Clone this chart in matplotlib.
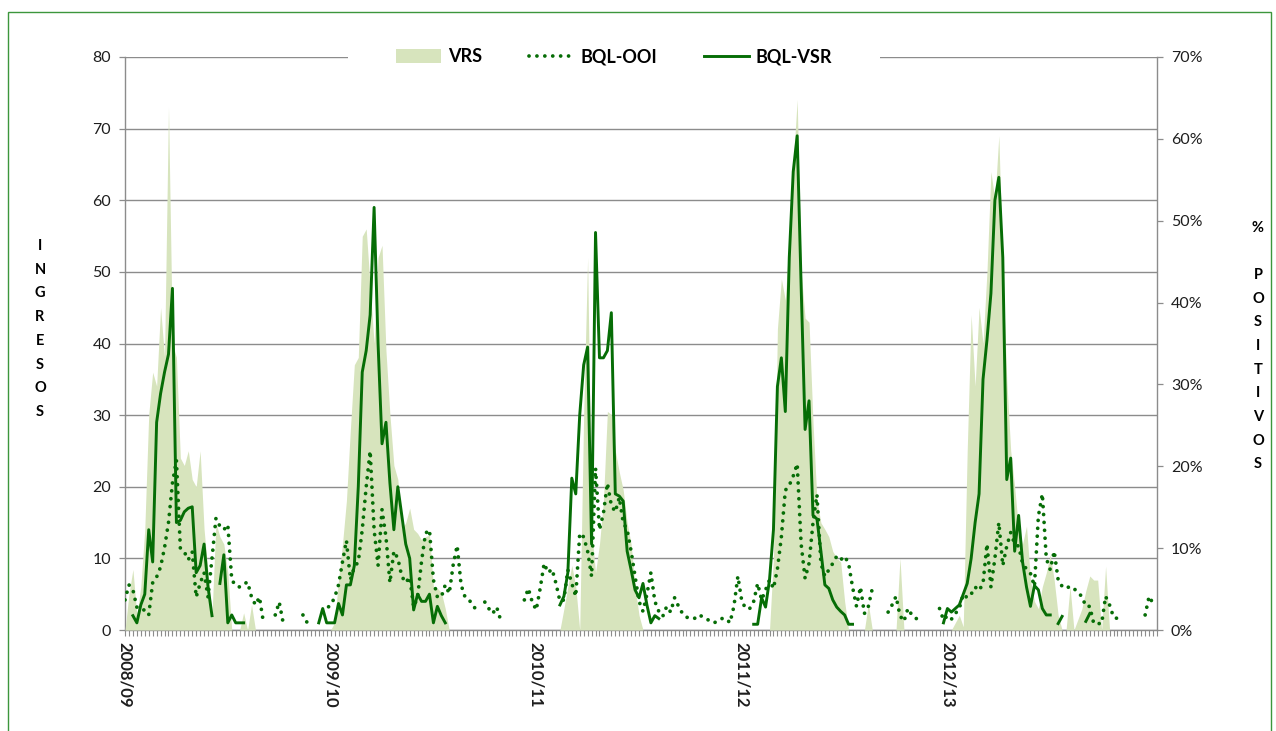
import numpy as np
import matplotlib
matplotlib.use("Agg")
import matplotlib.pyplot as plt
from matplotlib.patches import Patch, Rectangle
from matplotlib.lines import Line2D
from matplotlib.ticker import FuncFormatter

plt.rcParams['font.family'] = ['Lato', 'DejaVu Sans']

N = None
season_labels = ['2008/09', '2009/10', '2010/11', '2011/12', '2012/13']
season_start_week = [0, 52, 104, 156, 208]

# VRS: % positivos (right axis), weekly
vrs_0809 = [0, 4.4, 7.4, 1.8, 5.3, 12.3, 26.3, 31.5, 29.8, 39.4,
            33.3, 63.9, 35, 33.3, 21, 20.1, 21.9, 18.4, 17.5, 21.9,
            12.3, 7, 1.8, 13.1, 11.4, 10.5, 7, 0, 0, 0,
            2.1, 0, 3.1, 0, 0, 0, 0, 0, 0, 0,
            0, 0, 0, 0, 0, 0, 0, 0, 0, 0, 0, 0]
vrs_0910 = [0, 0.9, 6.1, 10.5, 15.8, 24.5, 32.4, 33.3, 48.1, 49,
            42, 35, 45.5, 47, 34.1, 26.3, 20.1, 18.4, 12.3, 13.1,
            14.9, 12.3, 11.8, 11, 11.4, 11.6, 5.3, 5.1, 4.6, 2.6,
            0, 0, 0, 0, 0, 0, 0, 0, 0, 0,
            0, 0, 0, 0, 0, 0, 0, 0, 0, 0, 0, 0]
vrs_1011 = [0, 0, 0, 0, 0, 0,
            0, 2.6, 5.3, 7.9, 5.3, 0, 26.3, 45.5, 12.3, 7,
            10.5, 15.8, 26.7, 26.3, 21.9, 19.3, 17.1, 13.1, 10.5, 5.3,
            1.8, 0, 0, 0, 0, 0, 0, 0, 0, 0,
            0, 0, 0, 0, 0, 0, 0, 0, 0, 0, 0, 0, 0, 0, 0, 0]
vrs_1112 = [0, 0, 0, 0, 0, 0, 0, 0,
            8.8, 36.8, 42.9, 40.3, 48.1, 56.9, 64.8, 43.8, 38.1, 37.6,
            25.4, 15.8, 13.1, 12.3, 11.4, 9.6, 8.8, 8.3, 3.5, 0,
            0, 0, 0, 0, 3.2, 0, 0, 0, 0, 0, 0, 0, 8.8,
            0, 0, 0, 0, 0, 0, 0, 0, 0, 0, 0]
vrs_1213 = [0, 0, 0.9, 1.8, 0.4, 21.9, 38.5, 29.8, 39.4, 35,
            43.8, 56, 52.5, 60.4, 43.8, 30.6, 21.9, 17.5, 12.3, 10.5,
            12.7, 6.1, 3.5, 2.6, 5.3, 7, 9.2, 6.1, 1.8, 0,
            0, 5.3, 0, 1.3, 2.6, 4.8, 6.6, 6.1, 6.1, 0,
            7.8, 0, 0, 0, 0, 0, 0, 0, 0, 0, 0, 0, 0, 0]

# BQL-OOI: ingresos (left axis)
ooi_0809 = [4.2, 6.3, 5.6, 3.2, 2.8, 2.8, 2.1, 6.6, 7.4, 8.8,
            11.5, 15, 20.5, 23.7, 11.4, 10.9, 9.8, 10.9, 4.6, 6.5,
            8, 4.6, 10, 15.6, 14.5, 14, 14.7, 7, 6.2, 6,
            6.4, 6.7, 4.6, 3.5, 4.6, 1.1, N, N, 2.1, 3.9,
            1, N, N, N, N, 2.1, 1.1, N, N, N, 2.5, 3]
ooi_0910 = [3.5, 4.5, 6.3, 9.5, 12.5, 7, 8.8, 9.5, 14, 20,
            25, 14, 9, 16.8, 13, 6.6, 11, 10, 7.5, 6.6,
            7.4, 3.2, 4.6, 9.6, 13.5, 14, 7, 4.6, 4.6, 6.3,
            5.1, 9.1, 11.8, 6.3, 4.6, 4.2, 3.5, 2.6, N, 3.9,
            3, 2.3, 3.2, 1.4, N, N, N, N, N, 4.2, 5.8, 3.9]
ooi_1011 = [2.8, 5.8, 9.3, 8, 8.5, 6.5, 4, 4.2, 8.4, 6.5,
            4.7, 13.5, 13, 11, 7.5, 22.6, 14, 16.3, 20.5, 17.4,
            16.5, 18.5, 15, 14, 11, 7.5, 4, 2.6, 5, 8,
            4, 2.6, 1.9, 3.3, 2.5, 4.5, 3.3, 2.3, 1.8, 1.6,
            1.6, 2.1, 1.9, 1.6, 1.2, 1, 1.3, 1.6, 1.6, 1, 3.3, 7.5]
ooi_1112 = [4, 3, 3, 4, 6.5, 4.2, 5.6, 7, 5.8, 8.5,
            13, 19.5, 20.2, 21.5, 23.2, 12, 7.2, 9.3, 15, 18.9,
            9.3, 7.5, 8.4, 9.3, 10.3, 9.8, 10.3, 9.3, 6, 3.3,
            6, 2.3, 3.3, 5.8, N, N, N, 2.5, 3.5, 4.7,
            2, 1.2, 3, 2.1, 1.6, 1.6, N, N, N, N, 3, 1.4]
ooi_1213 = [2, 1.5, 2.3, 3, 5, 4.5, 5, 6, 5.5, 6.5,
            12, 6, 10, 15, 9, 11.7, 13.6, 12, 11.7, 9.3,
            8.5, 7.9, 6.1, 15.9, 19, 10, 8.4, 11, 7, 6.1,
            5.8, 6.1, 5.8, 5.2, 4.7, 3.3, 3.3, 0.9, 0.9, 0.9,
            4.7, 3.5, 1.8, 1.6, 1.4, N, N, N, N, N,
            2.1, 4.7, 3.7, N]

# BQL-VSR: ingresos (left axis)
vsr_0809 = [N, N, 2, 1, 3.5, 5, 14, 9.5, 29, 33,
            36, 38.5, 47.7, 15, 15.3, 16.5, 17, 17.2, 8, 9,
            12, 6, 2, N, 6.5, 10.5, 1, 2.1, 1, 1,
            1, N, N, N, N, N, N, N, N, N,
            N, N, N, N, N, N, N, N, N, 1, 3, 1]
vsr_0910 = [1, 1, 3.7, 2.1, 6.3, 6.3, 9, 20, 36, 39,
            44, 59, 40, 26, 29, 20.5, 14, 20, 16, 12,
            10, 2.8, 5, 4, 4, 5, 1, 3.3, 2, 1,
            N, N, N, N, N, N, N, N, N, N,
            N, N, N, N, N, N, N, N, N, N, N, N]
vsr_1011 = [N, N, N, N, N, N,
            3.5, 4.7, 8, 21.2, 19, 30, 37, 39.5, 12, 55.5,
            38, 38, 39, 44.3, 19, 18.7, 18, 11, 8.4, 5.6,
            4.5, 6.5, 3.5, 1, 2, 1.6,
            N, N, N, N, N, N, N, N, N, N,
            N, N, N, N, N, N, N, N, N, N]
vsr_1112 = [N, N, N,
            0.8, 0.8, 4.5, 3.2, 7, 14, 34, 38, 30.5,
            52, 64, 69, 48, 28, 32, 16, 15.5, 11, 6.3,
            5.8, 4.2, 3.2, 2.6, 2.1, 0.8, 0.8,
            N, N, N, N, N, N, N, N, N, N, N,
            N, N, N, N, N, N, N, N, N, N, N, 1]
vsr_1213 = [3, 2.5, 3, 3.5, 5, 6.5, 10, 15, 19, 35,
            40.5, 47, 60, 63.2, 52, 21, 24, 11, 16, 9.5,
            6, 3.3, 6.2, 5.6, 3, 2.1, 2.1, N, 0.9, 1.9,
            N, N, N, N, N, 1.2, 2.3,
            N, N, N, N, N, N, N, N, N, N, N, N, N, N, N, N, N]

for s in (vrs_0809, vrs_0910, vrs_1011, vrs_1112, ooi_0809, ooi_0910, ooi_1011,
          ooi_1112, vsr_0809, vsr_0910, vsr_1011, vsr_1112):
    assert len(s) == 52, len(s)
for s in (vrs_1213, ooi_1213, vsr_1213):
    assert len(s) == 54, len(s)

vrs = np.array(vrs_0809 + vrs_0910 + vrs_1011 + vrs_1112 + vrs_1213, dtype=float)
ooi = np.array(ooi_0809 + ooi_0910 + ooi_1011 + ooi_1112 + ooi_1213, dtype=float)
vsr = np.array(vsr_0809 + vsr_0910 + vsr_1011 + vsr_1112 + vsr_1213, dtype=float)
weeks = np.arange(len(vrs))

GREEN = '#066D06'
AREA = '#D7E4BD'
GRID = '#8C8C8C'
TXT = '#1E1E1E'

fig = plt.figure(figsize=(12.76, 7.31), dpi=100)
fig.patch.set_facecolor('white')
ax1 = fig.add_axes([125 / 1276, (731 - 630) / 731, 1032 / 1276, 573 / 731])
ax2 = ax1.twinx()
ax3 = ax1.twinx()
ax1.set_zorder(0)
ax2.set_zorder(1)
ax3.set_zorder(2)
ax2.patch.set_visible(False)
ax3.patch.set_visible(False)

# left axis (ingresos)
ax1.set_xlim(0, len(weeks) - 1)
ax1.set_ylim(0, 80)
ax1.set_yticks(np.arange(0, 81, 10))
ax1.yaxis.grid(True, color=GRID, lw=1.0)
ax1.set_axisbelow(True)
for sp in ('top', 'right'):
    ax1.spines[sp].set_visible(False)
for sp in ('left', 'bottom'):
    ax1.spines[sp].set_color(GRID)
    ax1.spines[sp].set_linewidth(1.0)
ax1.tick_params(axis='y', direction='out', length=4, width=0.9, color=GRID,
                labelsize=11.5, labelcolor=TXT, pad=6)
xt_labels = []
for i in weeks:
    xt_labels.append(season_labels[season_start_week.index(i)] if i in season_start_week else '')
ax1.set_xticks(weeks)
ax1.set_xticklabels(xt_labels, rotation=-90, fontweight='bold', fontsize=12,
                    color=TXT, va='top', ha='center')
ax1.tick_params(axis='x', direction='out', length=4, width=0.8, color=GRID, pad=5)

# right axis (% positivos)
ax2.fill_between(weeks, 0, vrs, color=AREA, lw=0)
ax2.set_ylim(0, 70)
ax2.set_yticks(np.arange(0, 71, 10))
ax2.yaxis.set_major_formatter(FuncFormatter(lambda v, p: f'{int(v)}%'))
for sp in ('top', 'left', 'bottom'):
    ax2.spines[sp].set_visible(False)
ax2.spines['right'].set_color(GRID)
ax2.spines['right'].set_linewidth(1.0)
ax2.tick_params(axis='y', direction='out', length=4, width=0.9, color=GRID,
                labelsize=11.5, labelcolor=TXT, pad=6)

# lines (on left scale)
ax3.set_ylim(0, 80)
ax3.yaxis.set_visible(False)
for sp in ax3.spines.values():
    sp.set_visible(False)
ax3.plot(weeks, ooi, color=GREEN, lw=2.7, ls=(0, (0.01, 2.1)),
         dash_capstyle='round', solid_capstyle='round')
ax3.plot(weeks, vsr, color=GREEN, lw=2.1, solid_joinstyle='round')

# legend
ax3.add_patch(Rectangle((0.216, 0.985), 0.516, 0.03, transform=ax3.transAxes,
                        facecolor='white', edgecolor='none', clip_on=False, zorder=8))
handles = [Patch(facecolor=AREA, edgecolor='none'),
           Line2D([], [], color=GREEN, lw=2.7, ls=(0, (0.01, 2.1)), dash_capstyle='round'),
           Line2D([], [], color=GREEN, lw=2.1)]
leg = ax3.legend(handles, ['VRS', 'BQL-OOI', 'BQL-VSR'], loc='center',
                 bbox_to_anchor=(0.474, 1.0), ncol=3, frameon=False,
                 prop={'weight': 'bold', 'size': 13}, handlelength=2.5,
                 handleheight=0.8, handletextpad=0.35, columnspacing=2.6,
                 borderpad=0.2)
leg.set_zorder(10)
for t in leg.get_texts():
    t.set_color('#000000')

# axis titles (stacked letters)
fig.text(40 / 1276, 1 - 329 / 731, '\n'.join('INGRESOS'), ha='center', va='center',
         multialignment='center', fontsize=10.5, fontweight='bold', linespacing=1.88,
         color='#000000')
fig.text(1258 / 1276, 1 - 346 / 731, '%\n\n' + '\n'.join('POSITIVOS'), ha='center',
         va='center', multialignment='center', fontsize=10.5, fontweight='bold',
         linespacing=1.88, color='#000000')

# outer frame
fig.patches.append(Rectangle((8 / 1276, -0.05), 1263 / 1276, 1.05 - 12 / 731,
                             transform=fig.transFigure, fill=False,
                             edgecolor='#3C963C', lw=1.0))

fig.savefig('out.png', dpi=100, facecolor='white')
